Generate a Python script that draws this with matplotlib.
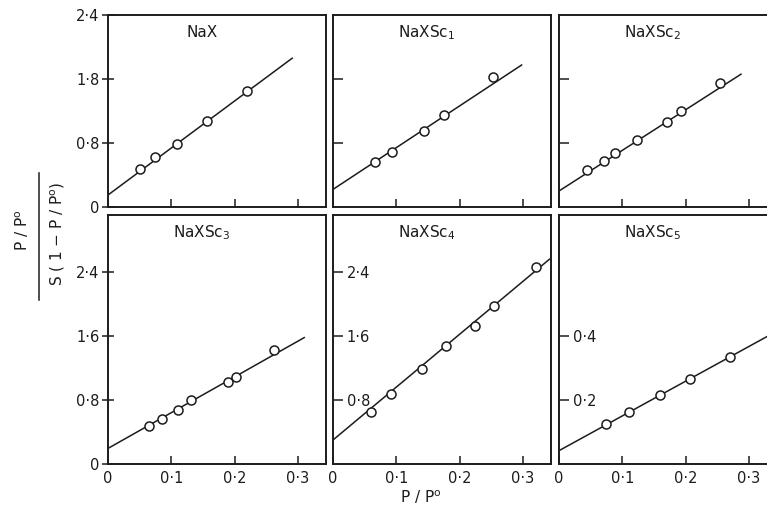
import matplotlib
matplotlib.use("Agg")
import matplotlib.pyplot as plt
from matplotlib.lines import Line2D

# values (P/P0, P/P0 / S(1-P/P0))
titles = ["NaX", r"NaXSc$_{1}$", r"NaXSc$_{2}$",
          r"NaXSc$_{3}$", r"NaXSc$_{4}$", r"NaXSc$_{5}$"]

x_nax = [0.051, 0.074, 0.109, 0.156, 0.220]
y_nax = [0.475, 0.625, 0.79, 1.075, 1.45]
x_sc1 = [0.066, 0.093, 0.143, 0.175, 0.253]
y_sc1 = [0.56, 0.69, 0.95, 1.15, 1.62]
x_sc2 = [0.045, 0.071, 0.088, 0.124, 0.170, 0.192, 0.254]
y_sc2 = [0.46, 0.58, 0.67, 0.84, 1.06, 1.20, 1.55]
x_sc3 = [0.065, 0.085, 0.111, 0.131, 0.189, 0.203, 0.262]
y_sc3 = [0.475, 0.56, 0.68, 0.80, 1.03, 1.09, 1.42]
x_sc4 = [0.060, 0.092, 0.141, 0.179, 0.224, 0.255, 0.320]
y_sc4 = [0.65, 0.875, 1.19, 1.48, 1.73, 1.98, 2.46]
x_sc5 = [0.074, 0.111, 0.160, 0.207, 0.270]
y_sc5 = [0.124, 0.1625, 0.216, 0.265, 0.333]

# straight-line fits drawn in the figure (end points)
fit_x = [[0.0, 0.291], [0.0, 0.298], [0.0, 0.2875],
         [0.0, 0.310], [0.0, 0.342], [0.0, 0.344]]
fit_y = [[0.15, 1.86], [0.22, 1.775], [0.20, 1.66],
         [0.195, 1.58], [0.30, 2.56], [0.0417, 0.415]]

xs = [x_nax, x_sc1, x_sc2, x_sc3, x_sc4, x_sc5]
ys = [y_nax, y_sc1, y_sc2, y_sc3, y_sc4, y_sc5]

x_ticks = [0.0, 0.1, 0.2, 0.3]
x_ticklabels = ["0", "0·1", "0·2", "0·3"]
y_ticks_big = [0.0, 0.8, 1.6, 2.4]
y_labels_top = ["0", "0·8", "1·8", "2·4"]
y_labels_bot = ["0", "0·8", "1·6", "2·4"]
y_ticks_sc5 = [0.2, 0.4]
y_labels_sc5 = ["0·2", "0·4"]

INK = "#1c1c1c"
plt.rcParams.update({
    "font.family": "DejaVu Sans",
    "mathtext.fontset": "dejavusans",
    "font.size": 10,
    "axes.edgecolor": INK,
    "xtick.color": INK,
    "ytick.color": INK,
    "text.color": INK,
})

W, H = 767, 516
fig = plt.figure(figsize=(W / 100, H / 100), dpi=100)

col_left = [108, 333, 559]
row_top = [15, 215]
row_bot = [207, 464]
pw = 218


def add_panel(ix, iy):
    l = col_left[ix] / W
    b = 1 - row_bot[iy] / H
    h = (row_bot[iy] - row_top[iy]) / H
    return fig.add_axes([l, b, pw / W, h])


axes = []
for iy in range(2):
    for ix in range(3):
        axes.append(add_panel(ix, iy))

for k, ax in enumerate(axes):
    iy, ix = divmod(k, 3)
    ax.plot(fit_x[k], fit_y[k], color=INK, lw=1.1)
    ax.plot(xs[k], ys[k], "o", ms=6.5, mfc="white", mec=INK, mew=1.1)
    ax.set_xlim(0, pw / 633)
    for s in ax.spines.values():
        s.set_linewidth(1.4)

    ax.set_xticks(x_ticks)
    ax.tick_params(axis="x", direction="in", length=5.5, width=1.1, pad=5,
                   labelsize=10.5)
    if iy == 0:
        ax.set_xticklabels([])
    else:
        ax.set_xticklabels(x_ticklabels)

    if k == 5:
        ax.set_ylim(0, 249 / 320)
    elif iy == 0:
        ax.set_ylim(0, 2.4)
    else:
        ax.set_ylim(0, 249 / 80)

    if ix == 0:
        ax.set_yticks(y_ticks_big)
        ax.set_yticklabels(y_labels_top if iy == 0 else y_labels_bot)
        ax.tick_params(axis="y", direction="inout", length=8, width=1.1,
                       pad=2, labelsize=10.5)
    elif iy == 0:
        ax.set_yticks(y_ticks_big[1:3])
        ax.set_yticklabels([])
        ax.tick_params(axis="y", direction="in", length=7, width=1.1)
    else:
        if k == 4:
            ax.set_yticks(y_ticks_big[1:])
            ax.set_yticklabels(y_labels_bot[1:])
        else:
            ax.set_yticks(y_ticks_sc5)
            ax.set_yticklabels(y_labels_sc5)
        ax.tick_params(axis="y", direction="in", length=7, width=1.1,
                       pad=-10, labelsize=10.5)
        for lab in ax.get_yticklabels():
            lab.set_horizontalalignment("left")

    ty = 0.91 if iy == 0 else 0.93
    ax.text(0.43, ty, titles[k], transform=ax.transAxes, ha="center",
            va="center", fontsize=11)

# shared axis labels
fig.text(421 / W, 1 - 497 / H, r"P / P$^{\mathrm{o}}$", ha="center",
         va="center", fontsize=11)
fig.text(22 / W, 1 - 230 / H, r"P / P$^{\mathrm{o}}$", ha="center",
         va="center", rotation=90, fontsize=11)
fig.text(58 / W, 1 - 234 / H, r"S ( 1 $-$ P / P$^{\mathrm{o}}$)", ha="center",
         va="center", rotation=90, fontsize=11)
fig.add_artist(Line2D([39 / W, 39 / W], [1 - 173 / H, 1 - 300 / H],
                      transform=fig.transFigure, color=INK, lw=1.1))

fig.savefig("out.png", dpi=100)
